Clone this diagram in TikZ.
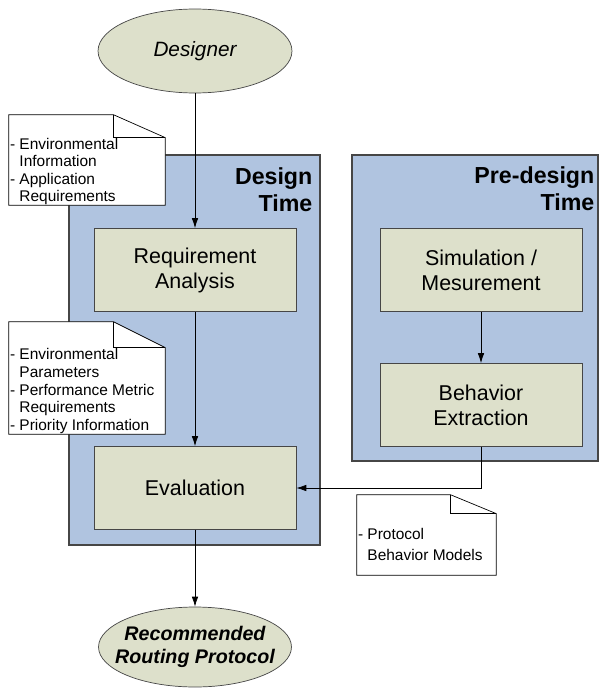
\documentclass[tikz,border=0pt]{standalone}
\usepackage{fontspec}
\setmainfont{Liberation Sans}
\usetikzlibrary{arrows.meta,calc,shapes.geometric}
\definecolor{panelblue}{RGB}{176,196,224}
\definecolor{boxolive}{RGB}{221,224,203}
\definecolor{edgegray}{RGB}{70,70,70}
\newcommand{\indentline}{\hspace*{0.611em}}
\begin{document}
\begin{tikzpicture}[x=0.02cm,y=-0.02cm,>={Latex[length=2mm,width=1.3mm]}]
	\useasboundingbox (0,0) rectangle (600,690);

	\begin{scope}[every node/.style={rectangle,thick,draw=edgegray,fill=panelblue}]
		\node (design) [minimum width=5.02cm,minimum height=7.8cm] at (194.5,350) {};
		\node (predesign) [minimum width=4.92cm,minimum height=6.12cm] at (475,308) {};
	\end{scope}

	\begin{scope}[every node/.style={anchor=north east,align=right,inner sep=0pt,font=\fontsize{13.2}{15.3}\selectfont\bfseries}]
		\node (designtitle) at ($(design.north east)+(-8,13)$) {Design\\Time};
		\node (predesigntitle) at ($(predesign.north east)+(-4,12)$) {Pre-design\\Time};
	\end{scope}

	\begin{scope}[every node/.style={rectangle,draw=edgegray,fill=boxolive,minimum width=4.04cm,minimum height=1.66cm,align=center,font=\fontsize{12.2}{14.2}\selectfont}]
		\node (req) at (195,270) {Requirement\\Analysis};
		\node (eval) at (195,488) {Evaluation};
		\node (sim) at (481,270) {Simulation /\\Mesurement};
		\node (beh) at (481,405) {Behavior\\Extraction};
	\end{scope}

	\begin{scope}[every node/.style={ellipse,draw=edgegray,fill=boxolive,align=center}]
		\node (designer) [minimum width=3.88cm,minimum height=1.68cm,font=\fontsize{11.8}{14}\selectfont\itshape] at (195,51) {Designer};
		\node (rec) [minimum width=3.86cm,minimum height=1.6cm,inner xsep=-0.26cm,inner ysep=0pt,font=\fontsize{11.2}{13}\selectfont\bfseries\itshape] at (195,647) {Recommended\\Routing Protocol};
	\end{scope}

	% notes
	\begin{scope}[every node/.style={inner sep=0pt}]
		\node (envnote) [minimum width=3.12cm,minimum height=1.8cm] at (87,160) {};
		\node (metricnote) [minimum width=3.12cm,minimum height=2.24cm] at (87,378) {};
		\node (modelnote) [minimum width=2.78cm,minimum height=1.6cm] at (426.5,535) {};
	\end{scope}
	\foreach \n/\fx/\fy in {envnote/52/23,metricnote/52/26,modelnote/46/19}{
		\filldraw [fill=white,draw=black] (\n.south west) |- ($(\n.north east)+(-\fx,0)$) -- ($(\n.north east)+(0,\fy)$) -- (\n.south east) -- cycle;
		\draw [thick] ($(\n.north east)+(-\fx,0)$) |- ($(\n.north east)+(0,\fy)$);
	}
	\begin{scope}[every node/.style={anchor=west,align=left,inner sep=0pt,font=\fontsize{8.8}{10}\selectfont}]
		\node (envtext) at ($(envnote.west)+(1,11.5)$) {- Environmental\\\indentline Information\\- Application\\\indentline Requirements};
		\node (metrictext) at ($(metricnote.west)+(1,13)$) {- Environmental\\\indentline Parameters\\- Performance Metric\\\indentline Requirements\\- Priority Information};
		\node (modeltext) [font=\fontsize{8.8}{12}\selectfont] at ($(modelnote.west)+(1,9.5)$) {- Protocol\\\indentline Behavior Models};
	\end{scope}

	\begin{scope}[every edge/.style={draw=black,->}]
		\path (designer) edge (req);
		\path (req) edge (eval);
		\path (eval) edge (rec);
		\path (sim) edge (beh);
	\end{scope}
	\draw [->] (beh.south) |- (eval.east);
\end{tikzpicture}
\end{document}
